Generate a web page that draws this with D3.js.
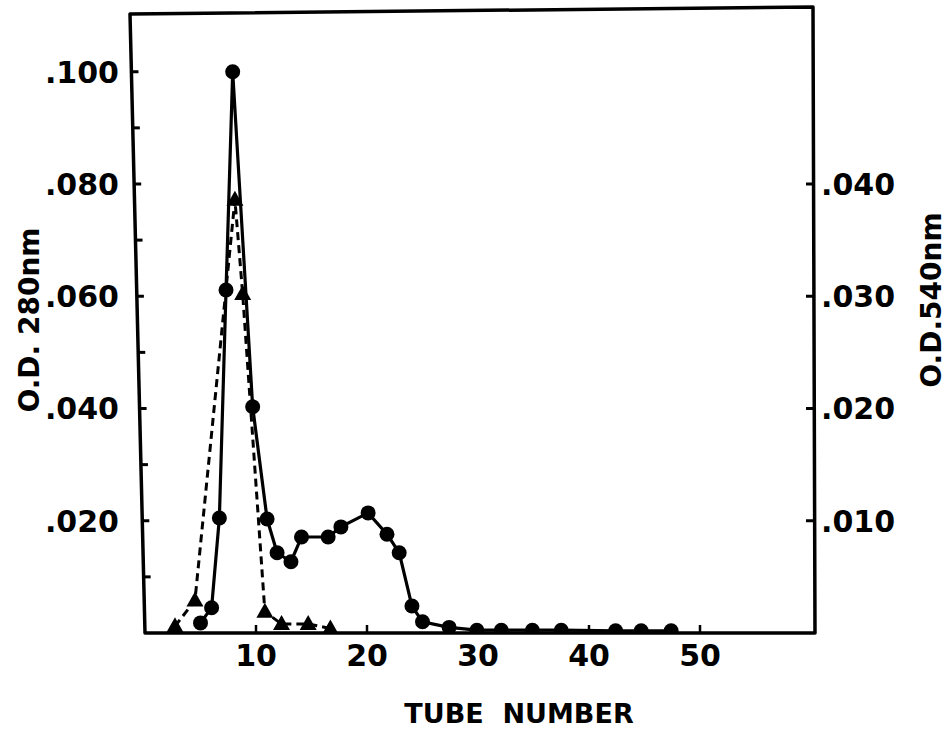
<!DOCTYPE html>
<html>
<head>
<meta charset="utf-8">
<script src="https://cdn.jsdelivr.net/npm/d3@7"></script>
<style>
  body { margin: 0; background: #fff; }
  svg { display: block; }
  text { font-family: "DejaVu Sans", sans-serif; font-weight: bold; fill: #000; }
</style>
</head>
<body>
<div id="chart"></div>
<script>
// O.D. 280 nm (circles, solid line, left axis)
const tube280 = [5.0, 6.0, 6.7, 7.3, 7.9, 9.7, 11.0, 11.9, 13.15, 14.1, 16.5, 17.65,
  20.1, 21.8, 22.9, 24.05, 25.0, 27.4, 29.9, 32.1, 34.9, 37.5, 42.4, 44.7, 47.4];
const od280 = [0.0018, 0.0045, 0.0205, 0.0611, 0.1000, 0.0403, 0.0203, 0.0143, 0.0127, 0.0171, 0.0171, 0.0189,
  0.0214, 0.0176, 0.0143, 0.0048, 0.0020, 0.0010, 0.0005, 0.0005, 0.0005, 0.0005, 0.0004, 0.0004, 0.0004];

// O.D. 540 nm (triangles, dashed line, right axis)
const tube540 = [2.7, 4.5, 8.1, 8.8, 10.8, 12.3, 14.7, 16.7];
const od540 = [0.0006, 0.0029, 0.0386, 0.0302, 0.0019, 0.0008, 0.0008, 0.0004];

const xTicks = [10, 20, 30, 40, 50];
const leftTicks = [0.02, 0.04, 0.06, 0.08, 0.10];
const leftTickLabels = [".020", ".040", ".060", ".080", ".100"];
const leftMinor = [0.01, 0.03, 0.05, 0.07, 0.09];
const rightTicks = [0.01, 0.02, 0.03, 0.04];
const rightTickLabels = [".010", ".020", ".030", ".040"];

var width = 951, height = 737;
var margin = { top: 10, right: 140, bottom: 104, left: 145 };

var svg = d3.select("#chart").append("svg")
  .attr("width", width)
  .attr("height", height);

var x = d3.scaleLinear().domain([0, 60]).range([margin.left, width - margin.right]);
var y = d3.scaleLinear().domain([0, 0.111]).range([height - margin.bottom, margin.top]);
var y2 = d3.scaleLinear().domain([0, 0.0555]).range([height - margin.bottom, margin.top]);

var x0 = x.range()[0], x1 = x.range()[1], yb = y.range()[0], yt = y.range()[1];

// clip marks at the frame
svg.append("clipPath").attr("id", "plot")
  .append("rect")
  .attr("x", x0 - 20).attr("y", yt)
  .attr("width", x1 - x0 + 20).attr("height", yb - yt);

var g = svg.append("g").attr("clip-path", "url(#plot)");

// 540 nm dashed line + triangles
var pts540 = tube540.map((t, i) => [t, od540[i]]);
g.append("path")
  .datum(pts540)
  .attr("fill", "none")
  .attr("stroke", "#000")
  .attr("stroke-width", 3)
  .attr("stroke-dasharray", "8,5")
  .attr("d", d3.line().x(d => x(d[0])).y(d => y2(d[1])));

g.selectAll(".tri")
  .data(pts540)
  .enter().append("path")
  .attr("class", "tri")
  .attr("transform", d => `translate(${x(d[0])},${y2(d[1])})`)
  .attr("d", "M0,-9L8.5,6L-8.5,6Z")
  .attr("fill", "#000");

// 280 nm solid line + circles
var pts280 = tube280.map((t, i) => [t, od280[i]]);
g.append("path")
  .datum(pts280)
  .attr("fill", "none")
  .attr("stroke", "#000")
  .attr("stroke-width", 3.2)
  .attr("d", d3.line().x(d => x(d[0])).y(d => y(d[1])));

g.selectAll(".dot")
  .data(pts280)
  .enter().append("circle")
  .attr("class", "dot")
  .attr("cx", d => x(d[0]))
  .attr("cy", d => y(d[1]))
  .attr("r", 7.5)
  .attr("fill", "#000");

// frame (the scan is a bit skewed: left side leans in at the top)
var skew = 15;
svg.append("path")
  .attr("d", `M${x0},${yb}L${x0 - skew},${yt + 4}L${x1 + 2},${yt - 3}L${x1 + 4},${yb}Z`)
  .attr("fill", "none")
  .attr("stroke", "#000")
  .attr("stroke-width", 3.5)
  .attr("stroke-linejoin", "round");

// left axis ticks (inward) and labels
function leftEdge(v) { return x0 - skew * (yb - y(v)) / (yb - yt); }

svg.selectAll(".ltick")
  .data(leftTicks.concat(leftMinor))
  .enter().append("line")
  .attr("x1", d => leftEdge(d))
  .attr("x2", d => leftEdge(d) + 7)
  .attr("y1", d => y(d)).attr("y2", d => y(d))
  .attr("stroke", "#000").attr("stroke-width", 3);

svg.selectAll(".llab")
  .data(leftTicks)
  .enter().append("text")
  .attr("x", 119)
  .attr("y", d => y(d))
  .attr("dy", "0.36em")
  .attr("text-anchor", "end")
  .attr("font-size", 30)
  .text((d, i) => leftTickLabels[i]);

// right axis ticks and labels
svg.selectAll(".rtick")
  .data(rightTicks)
  .enter().append("line")
  .attr("x1", x1 + 3).attr("x2", x1 - 5)
  .attr("y1", d => y2(d)).attr("y2", d => y2(d))
  .attr("stroke", "#000").attr("stroke-width", 3);

svg.selectAll(".rlab")
  .data(rightTicks)
  .enter().append("text")
  .attr("x", x1 + 10)
  .attr("y", d => y2(d))
  .attr("dy", "0.36em")
  .attr("font-size", 30)
  .text((d, i) => rightTickLabels[i]);

// bottom ticks and labels
svg.selectAll(".xtick")
  .data(xTicks)
  .enter().append("line")
  .attr("x1", d => x(d)).attr("x2", d => x(d))
  .attr("y1", yb).attr("y2", yb - 8)
  .attr("stroke", "#000").attr("stroke-width", 2.5);

svg.selectAll(".xlab")
  .data(xTicks)
  .enter().append("text")
  .attr("x", d => x(d))
  .attr("y", yb + 33)
  .attr("text-anchor", "middle")
  .attr("font-size", 30)
  .text(d => d);

// axis titles
svg.append("text")
  .attr("transform", "translate(39,320) rotate(-90)")
  .attr("text-anchor", "middle")
  .attr("font-size", 28)
  .text("O.D. 280nm");

svg.append("text")
  .attr("transform", "translate(941,300) rotate(-90)")
  .attr("text-anchor", "middle")
  .attr("font-size", 28)
  .text("O.D.540nm");

svg.append("text")
  .attr("x", 519)
  .attr("y", 723)
  .attr("text-anchor", "middle")
  .attr("font-size", 27)
  .attr("xml:space", "preserve")
  .text("TUBE  NUMBER");
</script>
</body>
</html>
